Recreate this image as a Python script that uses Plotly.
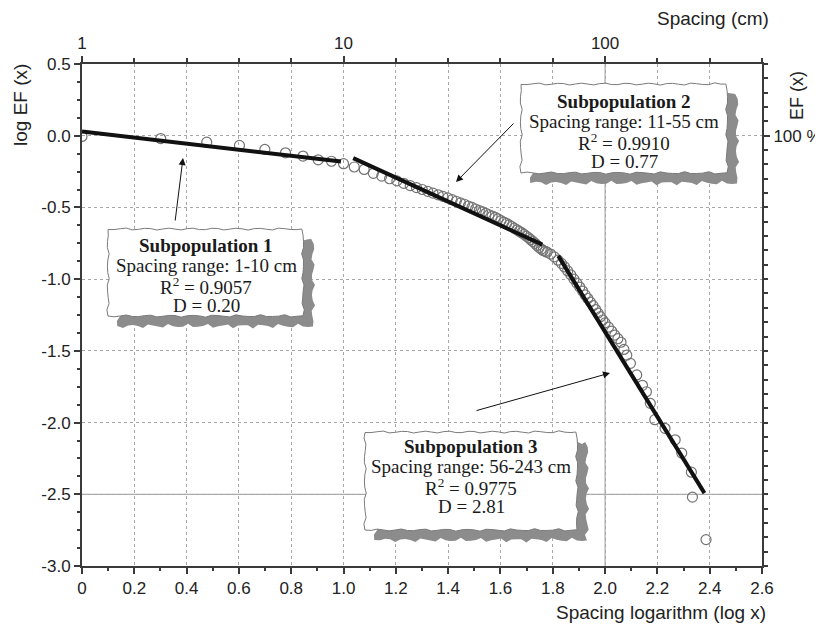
import math
import plotly.graph_objects as go

# ---------------- data ----------------
log_x = [0.000, 0.301, 0.477, 0.602, 0.699, 0.778, 0.845, 0.903, 0.954, 1.000,
         1.041, 1.079, 1.114, 1.146, 1.176, 1.204, 1.230, 1.255, 1.279, 1.301,
         1.322, 1.342, 1.362, 1.380, 1.398, 1.415, 1.431, 1.447, 1.462, 1.477,
         1.491, 1.505, 1.519, 1.531, 1.544, 1.556, 1.568, 1.580, 1.591, 1.602,
         1.613, 1.623, 1.633, 1.643, 1.653, 1.663, 1.672, 1.681, 1.690, 1.699,
         1.708, 1.716, 1.724, 1.732, 1.740, 1.748, 1.756, 1.763, 1.771, 1.778,
         1.792, 1.806, 1.820, 1.833, 1.845, 1.857, 1.869, 1.881, 1.892, 1.903,
         1.914, 1.924, 1.934, 1.944, 1.954, 1.964, 1.973, 1.982, 1.991, 2.000,
         2.013, 2.025, 2.037, 2.049, 2.061, 2.072, 2.083, 2.097, 2.121, 2.143,
         2.158, 2.173, 2.190, 2.229, 2.268, 2.293, 2.330, 2.334, 2.386]
log_ef = [-0.005, -0.020, -0.045, -0.068, -0.095, -0.119, -0.142, -0.168, -0.178, -0.195,
          -0.218, -0.235, -0.262, -0.282, -0.300, -0.315, -0.332, -0.348, -0.362, -0.375,
          -0.388, -0.400, -0.412, -0.423, -0.434, -0.446, -0.457, -0.468, -0.478, -0.490,
          -0.500, -0.511, -0.522, -0.531, -0.541, -0.551, -0.560, -0.570, -0.580, -0.592,
          -0.602, -0.612, -0.622, -0.633, -0.645, -0.656, -0.666, -0.676, -0.688, -0.700,
          -0.712, -0.725, -0.738, -0.750, -0.765, -0.780, -0.790, -0.800, -0.806, -0.812,
          -0.825, -0.845, -0.868, -0.890, -0.915, -0.943, -0.970, -1.000, -1.028, -1.055,
          -1.083, -1.110, -1.135, -1.160, -1.185, -1.212, -1.237, -1.262, -1.285, -1.305,
          -1.335, -1.362, -1.390, -1.415, -1.440, -1.490, -1.530, -1.587, -1.668, -1.740,
          -1.785, -1.866, -1.980, -2.040, -2.120, -2.213, -2.346, -2.520, -2.816]

fit1_x = [0.0, 0.99]
fit1_y = [0.03, -0.18]
fit2_x = [1.037, 1.760]
fit2_y = [-0.156, -0.759]
fit3_x = [1.821, 2.380]
fit3_y = [-0.838, -2.492]

x_ticks = [0.0, 0.2, 0.4, 0.6, 0.8, 1.0, 1.2, 1.4, 1.6, 1.8, 2.0, 2.2, 2.4, 2.6]
x_ticktext = ["0", "0.2", "0.4", "0.6", "0.8", "1.0", "1.2", "1.4", "1.6", "1.8",
              "2.0", "2.2", "2.4", "2.6"]
y_ticks = [0.5, 0.0, -0.5, -1.0, -1.5, -2.0, -2.5, -3.0]
y_ticktext = ["0.5", "0.0", "-0.5", "-1.0", "-1.5", "-2.0", "-2.5", "-3.0"]
top_ticks = [0, 1, 2]
top_ticktext = ["1", "10", "100"]
right_ticks = [0.0]
right_ticktext = ["100 %"]

boxes = [
    ("Subpopulation 1", "Spacing range: 1-10 cm", "0.9057", "0.20"),
    ("Subpopulation 2", "Spacing range: 11-55 cm", "0.9910", "0.77"),
    ("Subpopulation 3", "Spacing range: 56-243 cm", "0.9775", "2.81"),
]

# ---------------- layout geometry ----------------
# the page body has an 8 px margin, so the figure is drawn 8 px in from the corner
OFF = 8
W, H = 823 - OFF, 632 - OFF
PLOT_L, PLOT_R, PLOT_T, PLOT_B = 82, 762, 64, 566   # plot area in screenshot pixels
ML, MT = PLOT_L - OFF, PLOT_T - OFF
MR, MB = W - ML - (PLOT_R - PLOT_L), H - MT - (PLOT_B - PLOT_T)
PW, PH = PLOT_R - PLOT_L, PLOT_B - PLOT_T


def to_paper(px, py):
    return (px - PLOT_L) / PW, (PLOT_B - py) / PH


def wavy_rect(x0, y0, x1, y1, amp, step, phase):
    pts = []

    def edge(ax, ay, bx, by, k):
        ln = math.hypot(bx - ax, by - ay)
        n = max(2, int(ln / step))
        nx, ny = -(by - ay) / ln, (bx - ax) / ln
        for i in range(n):
            t = i / n
            o = amp * (math.sin(i * 1.7 + phase + k) + 0.5 * math.sin(i * 3.1 + 2 * k + phase))
            pts.append((ax + (bx - ax) * t + nx * o, ay + (by - ay) * t + ny * o))

    edge(x0, y0, x1, y0, 0.3)
    edge(x1, y0, x1, y1, 1.1)
    edge(x1, y1, x0, y1, 2.3)
    edge(x0, y1, x0, y0, 3.7)
    conv = [to_paper(*p) for p in pts]
    return "M " + " L ".join(f"{a:.5f},{b:.5f}" for a, b in conv) + " Z"


fig = go.Figure()

# reference lines (solid)
shapes = [
    dict(type="line", xref="x", yref="paper", x0=2.0, x1=2.0, y0=0, y1=1,
         line=dict(color="#9a9a9a", width=1), layer="below"),
    dict(type="line", xref="paper", yref="y", x0=0, x1=1, y0=-2.5, y1=-2.5,
         line=dict(color="#9a9a9a", width=1), layer="below"),
]

fig.add_trace(go.Scatter(x=log_x, y=log_ef, mode="markers",
                         marker=dict(symbol="circle-open", size=10,
                                     color="#737373", line=dict(width=1.2)),
                         showlegend=False, hoverinfo="skip"))
for fx, fy in [(fit1_x, fit1_y), (fit2_x, fit2_y), (fit3_x, fit3_y)]:
    fig.add_trace(go.Scatter(x=fx, y=fy, mode="lines",
                             line=dict(color="#111111", width=4),
                             showlegend=False, hoverinfo="skip"))
# helper trace so secondary axes render
fig.add_trace(go.Scatter(x=[None], y=[None], xaxis="x2", yaxis="y2",
                         showlegend=False, hoverinfo="skip"))

# box geometry in screenshot pixels: (left, top, right, bottom, center_x, first_line_y)
box_geom = [
    (108, 229, 303, 316, 206, 245),
    (521, 84, 727, 173, 624, 101),
    (365, 432, 577, 530, 471, 446),
]
annotations = []
serif = "Liberation Serif, Times New Roman, serif"
for (title, rng, r2, d), (l, t, r, b, cx, ly) in zip(boxes, box_geom):
    shapes.append(dict(type="path", xref="paper", yref="paper",
                       path=wavy_rect(l + 10, t + 10, r + 10, b + 10, 1.6, 5, 0.7),
                       fillcolor="#8c8c8c", line=dict(width=0), layer="above"))
    shapes.append(dict(type="path", xref="paper", yref="paper",
                       path=wavy_rect(l, t, r, b, 0.9, 6, 0.0),
                       fillcolor="white", line=dict(color="#7a7a7a", width=1),
                       layer="above"))
    lines = [f"<b>{title}</b>", rng, f"R<sup>2</sup> = {r2}", f"D = {d}"]
    for i, txt in enumerate(lines):
        xp, yp = to_paper(cx, ly + i * 20.3)
        annotations.append(dict(xref="paper", yref="paper", x=xp, y=yp, text=txt,
                                showarrow=False, xanchor="center", yanchor="middle",
                                font=dict(family=serif, size=19, color="#1a1a1a")))

# arrows: (head px, tail px)
arrows = [((183, 158), (175, 222)), ((456, 182), (515, 122)), ((610, 373), (475, 411))]
for (hx, hy), (tx, ty) in arrows:
    xp, yp = to_paper(hx, hy)
    annotations.append(dict(xref="paper", yref="paper", x=xp, y=yp, ax=tx - hx, ay=ty - hy,
                            text="", showarrow=True, arrowhead=2, arrowsize=1.4,
                            arrowwidth=1, arrowcolor="#111111"))

sans = "Liberation Sans, Arial, sans-serif"
# axis titles
for txt, (px, py), ang, size in [("log EF (x)", (20, 105), -90, 19),
                                 ("EF (x)", (797, 96), -90, 18),
                                 ("Spacing (cm)", (713, 18), 0, 19),
                                 ("Spacing logarithm (log x)", (661, 612), 0, 19)]:
    xp, yp = to_paper(px, py)
    annotations.append(dict(xref="paper", yref="paper", x=xp, y=yp, text=txt,
                            textangle=ang, showarrow=False, xanchor="center",
                            yanchor="middle",
                            font=dict(family=sans, size=size, color="#222222")))

axis_common = dict(showline=True, linecolor="#3a3a3a", linewidth=2, ticks="outside",
                   ticklen=6, tickwidth=1.5, tickcolor="#3a3a3a", automargin=False,
                   tickfont=dict(family=sans, size=17, color="#222222"), zeroline=False)

fig.update_layout(
    width=W, height=H, margin=dict(l=ML, r=MR, t=MT, b=MB, autoexpand=False),
    paper_bgcolor="white", plot_bgcolor="white",
    xaxis=dict(range=[0, 2.6], tickmode="array", tickvals=x_ticks, ticktext=x_ticktext,
               showgrid=True, gridcolor="#a8a8a8", gridwidth=1, griddash="dot",
               minor=dict(tickmode="linear", tick0=0, dtick=0.1, ticks="outside",
                          ticklen=3, tickcolor="#3a3a3a", showgrid=False),
               **axis_common),
    yaxis=dict(range=[-3.0, 0.5], tickmode="array", tickvals=y_ticks, ticktext=y_ticktext,
               showgrid=True, gridcolor="#a8a8a8", gridwidth=1, griddash="dot",
               minor=dict(tickmode="linear", tick0=0, dtick=0.125, ticks="outside",
                          ticklen=3, tickcolor="#3a3a3a", showgrid=False),
               **axis_common),
    xaxis2=dict(range=[0, 2.6], overlaying="x", side="top", anchor="y2",
                tickmode="array", tickvals=top_ticks, ticktext=top_ticktext, showgrid=False,
                minor=dict(tickmode="linear", tick0=0, dtick=0.2, ticks="outside",
                           ticklen=4, tickcolor="#3a3a3a", showgrid=False),
                **axis_common),
    yaxis2=dict(range=[-3.0, 0.5], overlaying="y", side="right", anchor="x2",
                tickmode="array", tickvals=right_ticks, ticktext=right_ticktext,
                showgrid=False,
                minor=dict(tickmode="linear", tick0=0, dtick=0.1, ticks="outside",
                           ticklen=4, tickcolor="#3a3a3a", showgrid=False),
                **axis_common),
    shapes=shapes, annotations=annotations, showlegend=False,
)

fig.write_html("out.html")
